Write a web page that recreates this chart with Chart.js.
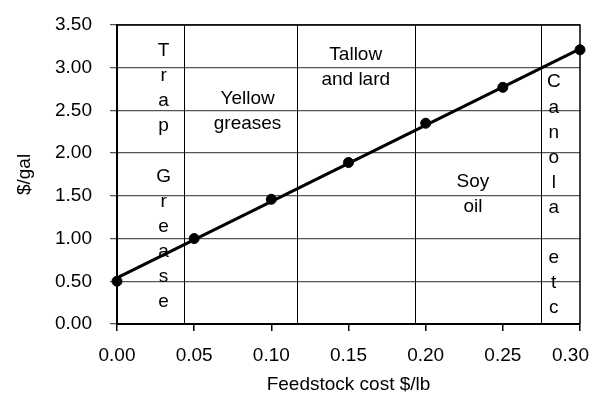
<!DOCTYPE html>
<html>
<head>
<meta charset="utf-8">
<script src="https://cdn.jsdelivr.net/npm/chart.js@4"></script>
<style>
  html, body { margin: 0; padding: 0; background: #fff; }
  #wrap { width: 596px; height: 395px; }
</style>
</head>
<body>
<div id="wrap"><canvas id="c" width="596" height="395"></canvas></div>
<script>
// ---- data ----
const feedstockCost = [0.00, 0.05, 0.10, 0.15, 0.20, 0.25, 0.30];
const costPerGal   = [0.50, 1.00, 1.46, 1.89, 2.35, 2.77, 3.21];
const trendX = [0.00, 0.30];
const trendY = [0.54, 3.22];
const dividerX = [0.0436, 0.1164, 0.1933, 0.2747];
const xTickLabels = ['0.00', '0.05', '0.10', '0.15', '0.20', '0.25', '0.30'];
const yTickLabels = ['0.00', '0.50', '1.00', '1.50', '2.00', '2.50', '3.00', '3.50'];
const regionLabels = [
  { lines: ['T','r','a','p','','G','r','e','a','s','e'], x: 0.0302, y: 3.137 },
  { lines: ['Yellow','greases'], x: 0.0846, y: 2.575 },
  { lines: ['Tallow','and lard'], x: 0.1547, y: 3.09 },
  { lines: ['Soy','oil'], x: 0.2306, y: 1.609 },
  { lines: ['C','a','n','o','l','a','','e','t','c'], x: 0.2830, y: 2.769 }
];

const FONT = "'Liberation Sans', Arial, sans-serif";

const pointData = feedstockCost.map((x, i) => ({ x, y: costPerGal[i] }));
const trendData = trendX.map((x, i) => ({ x, y: trendY[i] }));

const framePlugin = {
  id: 'frame',
  beforeDatasetsDraw(chart) {
    const { ctx, chartArea: a, scales: { x, y } } = chart;
    ctx.save();
    ctx.strokeStyle = '#000';
    ctx.lineWidth = 1;
    dividerX.forEach(v => {
      const px = Math.round(x.getPixelForValue(v)) + 0.5;
      ctx.beginPath();
      ctx.moveTo(px, a.top);
      ctx.lineTo(px, a.bottom);
      ctx.stroke();
    });
    // right and top frame
    ctx.lineWidth = 1.5;
    ctx.beginPath();
    ctx.moveTo(a.left, a.top);
    ctx.lineTo(a.right, a.top);
    ctx.lineTo(a.right, a.bottom);
    ctx.stroke();
    // region labels
    ctx.fillStyle = '#000';
    ctx.font = '19px ' + FONT;
    ctx.textAlign = 'center';
    ctx.textBaseline = 'alphabetic';
    regionLabels.forEach(r => {
      const px = x.getPixelForValue(r.x);
      const py = y.getPixelForValue(r.y);
      r.lines.forEach((t, i) => {
        if (t) ctx.fillText(t, px, py + i * 25.1);
      });
    });
    ctx.restore();
  }
};

new Chart(document.getElementById('c'), {
  type: 'scatter',
  data: {
    datasets: [
      {
        data: trendData,
        showLine: true,
        borderColor: '#000',
        borderWidth: 3,
        pointRadius: 0,
        fill: false,
        clip: false
      },
      {
        data: pointData,
        showLine: false,
        backgroundColor: '#000',
        borderColor: '#000',
        pointRadius: 5,
        pointStyle: 'circle',
        clip: false
      }
    ]
  },
  options: {
    responsive: false,
    animation: false,
    devicePixelRatio: 1,
    layout: { padding: { top: 25, right: 16, left: 0, bottom: 0 } },
    plugins: { legend: { display: false }, tooltip: { enabled: false } },
    scales: {
      x: {
        type: 'linear',
        min: 0, max: 0.30,
        afterFit(s) { s.height = 71; s.paddingLeft = 0; s.paddingRight = 0; },
        afterBuildTicks(s) { s.ticks = feedstockCost.map(v => ({ value: v })); },
        ticks: {
          color: '#000',
          font: { family: FONT, size: 19 },
          padding: 13,
          maxRotation: 0,
          autoSkip: false,
          callback: (v, i) => i === xTickLabels.length - 1 ? xTickLabels[i] + '\u2002\u2002' : xTickLabels[i]
        },
        grid: { drawOnChartArea: false, drawTicks: true, tickLength: 7, color: '#000', lineWidth: 1.5 },
        border: { display: true, color: '#000', width: 2 },
        title: {
          display: true,
          text: 'Feedstock cost $/lb',
          color: '#000',
          font: { family: FONT, size: 19, lineHeight: 1.05 },
          padding: { top: 0, bottom: 0 }
        }
      },
      y: {
        type: 'linear',
        min: 0, max: 3.5,
        afterFit(s) { s.width = 117; s.paddingTop = 0; s.paddingBottom = 0; },
        afterBuildTicks(s) { s.ticks = yTickLabels.map(t => ({ value: parseFloat(t) })); },
        ticks: {
          color: '#000',
          font: { family: FONT, size: 19 },
          padding: 18,
          autoSkip: false,
          callback: (v, i) => yTickLabels[i]
        },
        grid: { drawOnChartArea: true, drawTicks: true, tickLength: 7, color: '#555', lineWidth: 1.3 },
        border: { display: true, color: '#000', width: 2 },
        title: {
          display: true,
          text: '$/gal',
          color: '#000',
          font: { family: FONT, size: 19, lineHeight: 1.2 },
          padding: { top: 13, bottom: 0 }
        }
      }
    }
  },
  plugins: [framePlugin]
});
</script>
</body>
</html>
